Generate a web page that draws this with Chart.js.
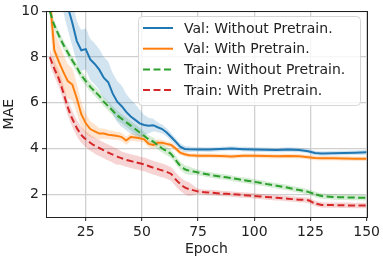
<!DOCTYPE html>
<html>
<head>
<meta charset="utf-8">
<script src="https://cdn.jsdelivr.net/npm/chart.js@4.4.0/dist/chart.umd.min.js"></script>
<style>
  html, body { margin: 0; padding: 0; background: #fff; }
  #wrap { width: 383px; height: 260px; }
</style>
</head>
<body>
<div id="wrap"><canvas id="maeChart" width="383" height="260"></canvas></div>
<script>
// --- data ---
const epochs = [9, 11, 13, 15, 17, 19, 21, 23, 25, 27, 29, 31, 33, 35, 37, 39, 41, 43, 45, 47, 49, 51, 53, 55, 57, 59, 61, 63, 65, 67, 69, 71,
    75, 80, 85, 90, 95, 100, 105, 110, 115, 120, 124, 127, 130, 135, 140, 145, 150];

const valWithout = [13.5, 12.8, 12.0, 11.0, 10.2, 9.5, 8.7, 8.3, 8.35, 7.9, 7.7, 7.45, 7.1, 6.9, 6.4, 6.05, 5.85, 5.6, 5.4, 5.25, 5.1, 5.03, 5.0, 5.02, 4.93, 4.85, 4.7, 4.5, 4.3, 4.08, 3.98, 3.97,
    3.96, 3.95, 3.98, 4.0, 3.97, 3.95, 3.94, 3.93, 3.95, 3.93, 3.88, 3.8, 3.78, 3.79, 3.8, 3.81, 3.83];
const valWithoutStd = [1.0, 1.0, 1.0, 1.0, 1.0, 1.0, 0.9, 0.9, 0.9, 0.9, 0.9, 0.9, 0.9, 0.9, 0.9, 0.9, 0.9, 0.8, 0.75, 0.7, 0.6, 0.45, 0.35, 0.28, 0.22, 0.2, 0.18, 0.17, 0.16, 0.15, 0.14, 0.12,
    0.1, 0.1, 0.1, 0.1, 0.1, 0.1, 0.1, 0.1, 0.1, 0.1, 0.1, 0.1, 0.1, 0.1, 0.1, 0.1, 0.1];

const valWith = [10.6, 8.3, 7.8, 7.35, 6.95, 6.8, 6.2, 5.5, 5.1, 4.85, 4.75, 4.65, 4.65, 4.6, 4.58, 4.55, 4.5, 4.35, 4.5, 4.48, 4.45, 4.4, 4.2, 4.15, 4.25, 4.25, 4.2, 4.15, 4.0, 3.82, 3.75, 3.7,
    3.68, 3.68, 3.67, 3.65, 3.68, 3.68, 3.67, 3.66, 3.67, 3.66, 3.62, 3.58, 3.57, 3.57, 3.56, 3.55, 3.55];
const valWithStd = [1.0, 0.9, 0.85, 0.8, 0.75, 0.7, 0.65, 0.55, 0.45, 0.35, 0.3, 0.25, 0.22, 0.2, 0.2, 0.18, 0.18, 0.18, 0.17, 0.17, 0.16, 0.15, 0.15, 0.15, 0.14, 0.13, 0.12, 0.12, 0.12, 0.11, 0.1, 0.1,
    0.1, 0.1, 0.1, 0.1, 0.1, 0.1, 0.1, 0.1, 0.1, 0.1, 0.1, 0.1, 0.1, 0.1, 0.1, 0.1, 0.1];

const trainWithout = [10.0, 9.4, 8.95, 8.55, 8.2, 7.85, 7.55, 7.2, 6.95, 6.7, 6.5, 6.3, 6.05, 5.85, 5.65, 5.45, 5.3, 5.15, 5.0, 4.85, 4.7, 4.55, 4.4, 4.3, 4.15, 4.0, 3.88, 3.75, 3.5, 3.25, 3.1, 3.03,
    2.95, 2.85, 2.77, 2.7, 2.62, 2.54, 2.45, 2.37, 2.28, 2.18, 2.1, 2.0, 1.92, 1.88, 1.86, 1.85, 1.84];
const trainWithoutStd = [0.2, 0.2, 0.2, 0.2, 0.2, 0.2, 0.2, 0.2, 0.2, 0.2, 0.2, 0.2, 0.2, 0.2, 0.2, 0.2, 0.2, 0.2, 0.2, 0.2, 0.2, 0.18, 0.18, 0.18, 0.18, 0.18, 0.18, 0.18, 0.18, 0.18, 0.18, 0.18,
    0.12, 0.12, 0.12, 0.12, 0.12, 0.12, 0.12, 0.12, 0.12, 0.12, 0.12, 0.12, 0.12, 0.12, 0.12, 0.12, 0.12];

const trainWith = [8.0, 7.5, 7.05, 6.45, 5.8, 5.3, 4.9, 4.6, 4.4, 4.25, 4.12, 4.02, 3.92, 3.82, 3.73, 3.64, 3.57, 3.5, 3.45, 3.4, 3.35, 3.3, 3.23, 3.16, 3.1, 3.04, 2.97, 2.88, 2.65, 2.45, 2.3, 2.22,
    2.12, 2.07, 2.03, 2.0, 1.96, 1.92, 1.88, 1.84, 1.8, 1.76, 1.73, 1.6, 1.53, 1.52, 1.51, 1.5, 1.5];
const trainWithStd = [0.35, 0.35, 0.35, 0.35, 0.35, 0.35, 0.35, 0.35, 0.35, 0.35, 0.35, 0.35, 0.35, 0.35, 0.35, 0.35, 0.3, 0.3, 0.3, 0.3, 0.3, 0.3, 0.3, 0.3, 0.3, 0.3, 0.3, 0.3, 0.3, 0.3, 0.3, 0.3,
    0.12, 0.12, 0.12, 0.12, 0.12, 0.12, 0.12, 0.12, 0.12, 0.12, 0.12, 0.12, 0.12, 0.12, 0.12, 0.12, 0.12];

const seriesLabels = ['Val: Without Pretrain.', 'Val: With Pretrain.', 'Train: Without Pretrain.', 'Train: With Pretrain.'];
const xTicks = [25, 50, 75, 100, 125, 150];
const yTicks = [2, 4, 6, 8, 10];

// --- styling ---
Chart.defaults.font.family = "'DejaVu Sans', sans-serif";
Chart.defaults.font.size = 14;
Chart.defaults.color = '#222';

const series = [
    { label: seriesLabels[0], mean: valWithout, std: valWithoutStd, color: '31,119,180', dash: [], order: 3 },
    { label: seriesLabels[1], mean: valWith, std: valWithStd, color: '255,127,14', dash: [], order: 2 },
    { label: seriesLabels[2], mean: trainWithout, std: trainWithoutStd, color: '44,160,44', dash: [7, 3.5], order: 1 },
    { label: seriesLabels[3], mean: trainWith, std: trainWithStd, color: '214,39,40', dash: [7, 3.5], order: 0 }
];

function pts(values) {
    return epochs.map((e, i) => ({ x: e, y: values[i] }));
}

const datasets = [];
series.forEach(s => {
    // band: upper filled down to lower
    datasets.push({
        data: pts(s.mean.map((v, i) => v + s.std[i])),
        borderWidth: 0, pointRadius: 0, tension: 0.2,
        backgroundColor: 'rgba(' + s.color + ',0.2)',
        fill: '+1', order: 10
    });
    datasets.push({
        data: pts(s.mean.map((v, i) => v - s.std[i])),
        borderWidth: 0, pointRadius: 0, tension: 0.2,
        fill: false, order: 10
    });
    datasets.push({
        label: s.label, isLine: true,
        data: pts(s.mean),
        borderColor: 'rgb(' + s.color + ')',
        borderWidth: 2, borderDash: s.dash,
        pointRadius: 0, tension: s.dash.length ? 0.2 : 0,
        fill: false, order: s.order
    });
});

// frame on all four sides + matplotlib-like legend box
const framePlugin = {
    id: 'framePlugin',
    afterDraw(chart) {
        const ctx = chart.ctx;
        const a = chart.chartArea;
        ctx.save();
        ctx.strokeStyle = '#222';
        ctx.lineWidth = 1;
        ctx.strokeRect(Math.round(a.left) + 0.5, Math.round(a.top) + 0.5,
            Math.round(a.right - a.left), Math.round(a.bottom - a.top));

        // legend
        const lines = chart.data.datasets.filter(d => d.isLine);
        const bx = 138.5, by = 16.5, bw = 222, bh = 89, r = 4;
        ctx.beginPath();
        ctx.moveTo(bx + r, by);
        ctx.arcTo(bx + bw, by, bx + bw, by + bh, r);
        ctx.arcTo(bx + bw, by + bh, bx, by + bh, r);
        ctx.arcTo(bx, by + bh, bx, by, r);
        ctx.arcTo(bx, by, bx + bw, by, r);
        ctx.closePath();
        ctx.fillStyle = 'rgba(255,255,255,0.8)';
        ctx.fill();
        ctx.strokeStyle = '#d6d6d6';
        ctx.stroke();

        ctx.font = "14px 'DejaVu Sans', sans-serif";
        ctx.textBaseline = 'middle';
        ctx.fillStyle = '#222';
        lines.forEach((d, i) => {
            const y = 28 + i * 20.7;
            ctx.beginPath();
            ctx.setLineDash(d.borderDash);
            ctx.strokeStyle = d.borderColor;
            ctx.lineWidth = 2;
            ctx.moveTo(143, y);
            ctx.lineTo(173, y);
            ctx.stroke();
            ctx.setLineDash([]);
            ctx.fillText(d.label, 184, y + 1);
        });
        ctx.restore();
    }
};

const ctxMae = document.getElementById('maeChart').getContext('2d');
new Chart(ctxMae, {
    type: 'line',
    data: { datasets: datasets },
    options: {
        responsive: false,
        animation: false,
        devicePixelRatio: 1,
        layout: { padding: { top: 8, right: 15, left: 0, bottom: 0 } },
        plugins: {
            legend: { display: false },
            tooltip: { enabled: false },
            filler: { drawTime: 'beforeDatasetsDraw' }
        },
        scales: {
            x: {
                type: 'linear',
                min: 7.3, max: 150,
                afterBuildTicks: s => { s.ticks = xTicks.map(v => ({ value: v })); },
                afterFit: s => { s.height = 43; },
                ticks: { padding: 3, maxRotation: 0 },
                grid: { color: '#d0d0d0', lineWidth: 1.3, tickColor: '#222', tickLength: 4, tickWidth: 1 },
                border: { display: false },
                title: { display: true, text: 'Epoch', padding: { top: 0, bottom: 2 } }
            },
            y: {
                type: 'linear',
                min: 1, max: 10,
                afterBuildTicks: s => { s.ticks = yTicks.map(v => ({ value: v })); },
                afterFit: s => { s.width = 46; },
                ticks: { padding: 3 },
                grid: { color: '#d0d0d0', lineWidth: 1.3, tickColor: '#222', tickLength: 4, tickWidth: 1 },
                border: { display: false },
                title: { display: true, text: 'MAE', padding: { top: 1, bottom: 0 } }
            }
        }
    },
    plugins: [framePlugin]
});
</script>
</body>
</html>
